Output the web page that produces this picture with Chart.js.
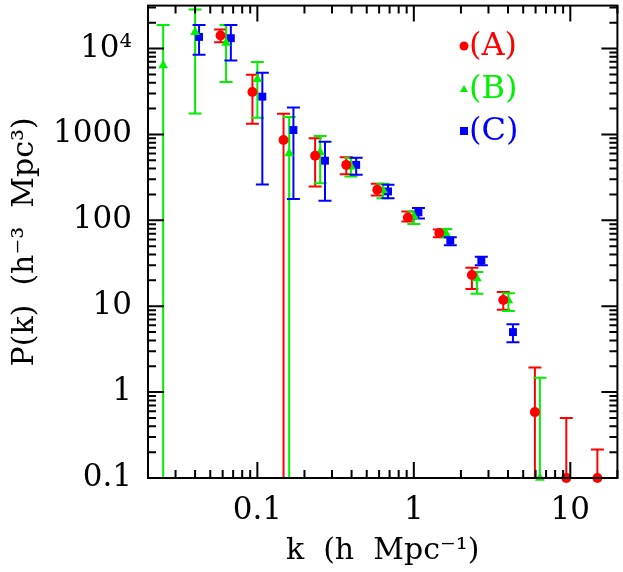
<!DOCTYPE html>
<html>
<head>
<meta charset="utf-8">
<script src="https://cdn.jsdelivr.net/npm/chart.js@4/dist/chart.umd.min.js"></script>
<style>
  html, body { margin: 0; padding: 0; background: #fff; overflow: hidden; }
</style>
</head>
<body>
<canvas id="pkChart" width="623" height="572"></canvas>
<script>
// series (A) - red circles
const kA  = [0.0582, 0.093, 0.147, 0.234, 0.370, 0.584, 0.916, 1.455, 2.35, 3.73, 5.94, 9.43, 14.9];
const pA  = [14190, 3125, 861, 566, 442, 227, 108, 71.3, 23.1, 11.8, 0.585, 0.1, 0.1];
const loA = [11860, 1330, null, 248, 344, 195, 97, 63.5, 15.9, 9.1, null, null, null];
const hiA = [16640, 4960, 1737, 900, 541, 266, 127, 78, 28, 14.6, 1.94, 0.50, 0.214];

// series (B) - green triangles
const kB  = [0.025, 0.040, 0.0631, 0.100, 0.1597, 0.252, 0.396, 0.635, 1.00, 1.60, 2.53, 4.02, 6.39];
const pB  = [6370, 15500, 11640, 4385, 602, 618, 422, 224, 111, 71, 21.1, 11.7, 0.1];
const loB = [null, 1750, 4080, 1560, null, 270, 324, 181, 90.6, 63.5, 14.0, 8.8, null];
const hiB = [18800, 28400, 18800, 6950, 1592, 957, 533, 266, 127, 79, 25.1, 14.2, 1.47];

// series (C) - blue squares
const kC  = [0.0424, 0.0677, 0.1076, 0.170, 0.2705, 0.428, 0.684, 1.07, 1.71, 2.70, 4.30];
const pC  = [13660, 13200, 2755, 1125, 495, 442, 217, 124, 58.2, 34.1, 5.0];
const loC = [8450, 7280, 261, 177, 169, 339, 181, 105, 51.3, 30, 3.8];
const hiC = [18800, 18800, 5230, 2055, 822, 537, 259, 139, 63.7, 37.6, 6.18];

const seriesLabels = ['(A)', '(B)', '(C)'];
const xTickValues = [0.1, 1, 10];
const xTickText = ['0.1', '1', '10'];
const yTickValues = [0.1, 1, 10, 100, 1000, 10000];
const yTickText = ['0.1', '1', '10', '100', '1000', '10\u2074'];

const FONT = '"DejaVu Serif", serif';

function pts(k, p, lo, hi) {
    return k.map((v, i) => ({ x: v, y: p[i], lo: lo[i], hi: hi[i] }));
}

function labelFor(v, vals, texts) {
    for (let i = 0; i < vals.length; i++) {
        if (Math.abs(Math.log10(v) - Math.log10(vals[i])) < 1e-6) return texts[i];
    }
    return '';
}

// all 1..9 x 10^n values between min and max
function logTicks(min, max) {
    const out = [];
    for (let e = Math.floor(Math.log10(min)); e <= Math.ceil(Math.log10(max)); e++) {
        for (let m = 1; m < 10; m++) {
            const v = m * Math.pow(10, e);
            if (v >= min * 0.9999 && v <= max * 1.0001) out.push({ v: v, major: m === 1 });
        }
    }
    return out;
}

// no extra room for half-labels at the axis ends
function noPad(s) {
    s.paddingTop = 0; s.paddingBottom = 0;
    s.paddingLeft = 0; s.paddingRight = 0;
}

const errorBars = {
    id: 'errorBars',
    beforeDatasetsDraw(chart) {
        const { ctx, chartArea: a, scales: { x, y } } = chart;
        ctx.save();
        ctx.beginPath();
        ctx.rect(a.left, a.top, a.right - a.left, a.bottom - a.top);
        ctx.clip();
        ctx.lineWidth = 2;
        chart.data.datasets.forEach(ds => {
            ctx.strokeStyle = ds.borderColor;
            ds.data.forEach(pt => {
                const px = x.getPixelForValue(pt.x);
                const top = y.getPixelForValue(pt.hi);
                const bot = pt.lo == null ? a.bottom + 5 : y.getPixelForValue(pt.lo);
                ctx.beginPath();
                ctx.moveTo(px, top);
                ctx.lineTo(px, bot);
                ctx.moveTo(px - 6.5, top);
                ctx.lineTo(px + 6.5, top);
                if (pt.lo != null) {
                    ctx.moveTo(px - 6.5, bot);
                    ctx.lineTo(px + 6.5, bot);
                }
                ctx.stroke();
            });
        });
        ctx.restore();
    }
};

const frame = {
    id: 'frame',
    afterDraw(chart) {
        const { ctx, chartArea: a, scales: { x, y } } = chart;
        ctx.save();
        ctx.strokeStyle = '#000';
        ctx.lineWidth = 2;
        ctx.strokeRect(a.left, a.top, a.right - a.left, a.bottom - a.top);

        ctx.beginPath();
        logTicks(x.min, x.max).forEach(t => {
            const px = x.getPixelForValue(t.v);
            const len = t.major ? 16 : 8;
            ctx.moveTo(px, a.bottom); ctx.lineTo(px, a.bottom - len);
            ctx.moveTo(px, a.top); ctx.lineTo(px, a.top + len);
        });
        logTicks(y.min, y.max).forEach(t => {
            const py = y.getPixelForValue(t.v);
            const len = t.major ? 16 : 8;
            ctx.moveTo(a.left, py); ctx.lineTo(a.left + len, py);
            ctx.moveTo(a.right, py); ctx.lineTo(a.right - len, py);
        });
        ctx.stroke();

        // axis titles
        ctx.fillStyle = '#000';
        ctx.font = '30px ' + FONT;
        ctx.textAlign = 'center';
        ctx.textBaseline = 'middle';
        ctx.fillText('k  (h  Mpc\u207B\u00B9)', (a.left + a.right) / 2, 551);
        ctx.translate(25, (a.top + a.bottom) / 2);
        ctx.rotate(-Math.PI / 2);
        ctx.fillText('P(k)  (h\u207B\u00B3  Mpc\u00B3)', 0, 0);
        ctx.restore();

        // legend inside the plot
        ctx.save();
        ctx.font = '32px ' + FONT;
        ctx.textAlign = 'left';
        ctx.textBaseline = 'middle';
        const rows = [46, 89, 131];
        chart.data.datasets.forEach((ds, i) => {
            const cy = rows[i];
            ctx.fillStyle = ds.backgroundColor;
            ctx.beginPath();
            if (ds.pointStyle === 'circle') {
                ctx.arc(464, cy, 4.5, 0, Math.PI * 2);
            } else if (ds.pointStyle === 'triangle') {
                ctx.moveTo(464, cy - 4); ctx.lineTo(468, cy + 3); ctx.lineTo(460, cy + 3);
            } else {
                ctx.rect(460, cy - 4, 8, 8);
            }
            ctx.fill();
            ctx.fillText(seriesLabels[i], 469, cy + 1);
        });
        ctx.restore();
    }
};

const ctx = document.getElementById('pkChart').getContext('2d');

const pkChart = new Chart(ctx, {
    type: 'scatter',
    data: {
        datasets: [
            {
                label: seriesLabels[0],
                data: pts(kA, pA, loA, hiA),
                pointStyle: 'circle',
                pointRadius: 5,
                borderColor: '#ff0000',
                backgroundColor: '#ff0000',
                borderWidth: 0
            },
            {
                label: seriesLabels[1],
                data: pts(kB, pB, loB, hiB),
                pointStyle: 'triangle',
                pointRadius: 5.6,
                borderColor: '#00f000',
                backgroundColor: '#00f000',
                borderWidth: 0
            },
            {
                label: seriesLabels[2],
                data: pts(kC, pC, loC, hiC),
                pointStyle: 'rect',
                pointRadius: 5.6,
                borderColor: '#0000ff',
                backgroundColor: '#0000ff',
                borderWidth: 0
            }
        ]
    },
    options: {
        responsive: false,
        animation: false,
        events: [],
        clip: false,
        layout: { padding: { top: 3, right: 2, left: 0, bottom: 0 } },
        scales: {
            x: {
                type: 'logarithmic',
                min: 0.02,
                max: 20,
                grid: { display: false, drawTicks: false },
                border: { display: false },
                afterFit: s => { s.height = 94; noPad(s); },
                ticks: {
                    autoSkip: false,
                    maxRotation: 0,
                    padding: 14,
                    color: '#000',
                    font: { family: FONT, size: 31 },
                    callback: v => labelFor(v, xTickValues, xTickText)
                }
            },
            y: {
                type: 'logarithmic',
                min: 0.1,
                max: Math.pow(10, 4.5),
                grid: { display: false, drawTicks: false },
                border: { display: false },
                afterFit: s => { s.width = 148; noPad(s); },
                ticks: {
                    autoSkip: false,
                    padding: 16,
                    color: '#000',
                    font: { family: FONT, size: 31 },
                    callback: v => labelFor(v, yTickValues, yTickText)
                }
            }
        },
        plugins: {
            legend: { display: false },
            tooltip: { enabled: false }
        }
    },
    plugins: [errorBars, frame]
});
</script>
</body>
</html>
